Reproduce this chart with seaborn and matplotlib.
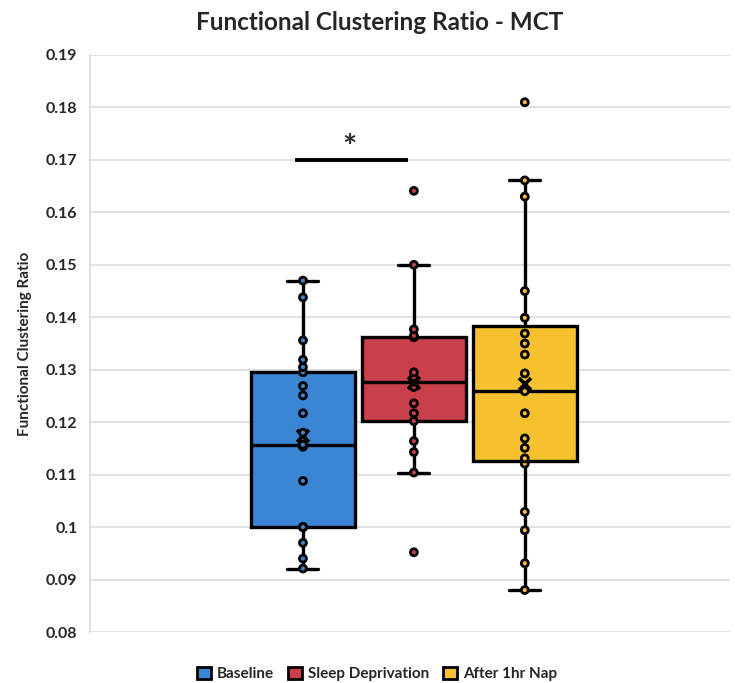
import matplotlib
matplotlib.use("Agg")
import matplotlib.pyplot as plt
from matplotlib.patches import Patch
import seaborn as sns
import pandas as pd

# Functional clustering ratio per participant, by condition
groups = ["Baseline", "Sleep Deprivation", "After 1hr Nap"]
baseline = [0.0921, 0.0940, 0.0970, 0.1000, 0.1000, 0.1000, 0.1088, 0.1153,
            0.1155, 0.1157, 0.1157, 0.1180, 0.1217, 0.1251, 0.1269, 0.1295,
            0.1305, 0.1319, 0.1356, 0.1438, 0.1470]
sleep_dep = [0.0952, 0.1104, 0.1143, 0.1164, 0.1202, 0.1217, 0.1236, 0.1267,
             0.1277, 0.1281, 0.1286, 0.1295, 0.1362, 0.1365, 0.1377, 0.1500,
             0.1641]
after_nap = [0.0880, 0.0931, 0.0994, 0.1029, 0.1121, 0.1131, 0.1151, 0.1169,
             0.1217, 0.1259, 0.1293, 0.1329, 0.1350, 0.1369, 0.1399, 0.1450,
             0.1630, 0.1661, 0.1810]
colors = ["#3A86D4", "#C9404A", "#F6C12F"]
y_ticks = [0.08, 0.09, 0.10, 0.11, 0.12, 0.13, 0.14, 0.15, 0.16, 0.17, 0.18, 0.19]
y_tick_labels = ["0.08", "0.09", "0.1", "0.11", "0.12", "0.13", "0.14", "0.15",
                 "0.16", "0.17", "0.18", "0.19"]
sig_level = 0.17

df = pd.DataFrame({
    "group": [groups[0]] * len(baseline) + [groups[1]] * len(sleep_dep)
             + [groups[2]] * len(after_nap),
    "ratio": baseline + sleep_dep + after_nap,
})

sns.set_style("white")
plt.rcParams["font.family"] = ["Lato", "DejaVu Sans"]

fig = plt.figure(figsize=(7.35, 6.83), dpi=100)
ax = fig.add_axes([90 / 735, 1 - 632 / 683, 640 / 735, 577 / 683])

palette = dict(zip(groups, colors))
sns.boxplot(data=df, x="group", y="ratio", hue="group", order=groups,
            hue_order=groups, palette=palette, saturation=1, width=0.94,
            dodge=False, showfliers=False, showmeans=True, legend=False,
            linewidth=2.4, linecolor="black", whis=1.5,
            meanprops=dict(marker="x", markeredgecolor="black",
                           markerfacecolor="black", markersize=9,
                           markeredgewidth=2.6),
            ax=ax, zorder=2)

sns.stripplot(data=df, x="group", y="ratio", hue="group", order=groups,
              hue_order=groups, palette=palette, jitter=False, dodge=False,
              size=5.0, linewidth=2.0, edgecolor="black", legend=False,
              ax=ax, zorder=4)

# Shorten whisker caps
for line in ax.lines:
    xd = list(line.get_xdata())
    yd = list(line.get_ydata())
    if len(xd) == 2 and yd[0] == yd[1] and 0.3 < abs(xd[1] - xd[0]) < 0.5:
        c = (xd[0] + xd[1]) / 2
        line.set_xdata([c - 0.14, c + 0.14])

ax.set_xlim(-1.92, 3.85)
ax.set_ylim(0.08, 0.19)
ax.set_yticks(y_ticks)
ax.set_yticklabels(y_tick_labels, fontsize=11.5, fontweight="bold")
ax.set_xticks([])
ax.set_xlabel("")
ax.set_ylabel("Functional Clustering Ratio", fontsize=11, fontweight="bold",
              labelpad=10)
ax.grid(axis="y", color="#DCDCDC", linewidth=1.2, zorder=0)
ax.set_axisbelow(True)
ax.tick_params(axis="y", length=5, color="#DCDCDC", width=1.2, pad=4)
for side in ["top", "right", "bottom"]:
    ax.spines[side].set_visible(False)
ax.spines["left"].set_color("#DCDCDC")
ax.spines["left"].set_linewidth(1.2)

# Significance bar between Baseline and Sleep Deprivation
ax.plot([-0.07, 0.95], [sig_level, sig_level], color="black", linewidth=2.8,
        solid_capstyle="butt", zorder=3)
ax.text(0.42, sig_level + 0.0022, "*", ha="center", va="center",
        fontsize=24, fontweight="bold")

fig.suptitle("Functional Clustering Ratio - MCT", x=380 / 735, y=1 - 22 / 683,
             va="center", fontsize=17.5, fontweight="bold")

handles = [Patch(facecolor=c, edgecolor="black", linewidth=2.0) for c in colors]
fig.legend(handles, groups, loc="center", bbox_to_anchor=(377 / 735, 1 - 674 / 683),
           ncol=3, frameon=False, prop=dict(size=11, weight="bold"),
           handlelength=0.9, handleheight=0.9, handletextpad=0.4,
           columnspacing=0.9)

fig.savefig("out.png", dpi=100)
